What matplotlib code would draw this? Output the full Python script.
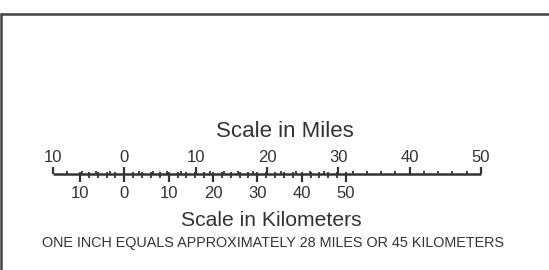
import numpy as np
import matplotlib
matplotlib.use('Agg')
import matplotlib.pyplot as plt

plt.rcParams['font.family'] = ['Liberation Sans', 'DejaVu Sans']

# scale values
mile_labels = [10, 0, 10, 20, 30, 40, 50]
mile_values = [-10, 0, 10, 20, 30, 40, 50]
km_labels = [10, 0, 10, 20, 30, 40, 50]
km_values = [-10, 0, 10, 20, 30, 40, 50]
mile_minor = np.arange(-10, 51, 2)
km_minor = np.arange(-10, 51, 2)
KM_PER_MILE = 1.609344

title_top = 'Scale in Miles'
title_bottom = 'Scale in Kilometers'
note = 'ONE INCH EQUALS APPROXIMATELY 28 MILES OR 45 KILOMETERS'

ink = '#333333'

fig = plt.figure(figsize=(5.49, 2.70), dpi=100)
ax = fig.add_axes([0, 0, 1, 1])
ax.set_xlim(-17.43, 59.53)
ax.set_ylim(270, 0)
ax.axis('off')

# frame (runs off the right and bottom edges)
ax.plot([-17.2, 60], [13.5, 13.5], color='#444444', lw=1.8)
ax.plot([-17.22, -17.22], [13.5, 271], color='#444444', lw=1.8)

bar_y = 174
ax.plot([mile_values[0], mile_values[-1]], [bar_y, bar_y], color=ink, lw=1.8,
        solid_capstyle='butt')

# mile ticks (up)
ax.vlines(mile_minor, bar_y - 3.5, bar_y, color=ink, lw=1.3)
ax.vlines(mile_values, bar_y - 7, bar_y, color=ink, lw=1.6)

# km ticks (down), positioned in miles
km_minor_mi = np.array(km_minor) / KM_PER_MILE
km_major_mi = np.array(km_values) / KM_PER_MILE
ax.vlines(km_minor_mi, bar_y - 2, bar_y + 3.5, color=ink, lw=1.3)
ax.vlines(km_major_mi, bar_y, bar_y + 8, color=ink, lw=1.6)

for v, lab in zip(mile_values, mile_labels):
    ax.text(v, 157, str(lab), ha='center', va='center', fontsize=12, color=ink)
for v, lab in zip(km_major_mi, km_labels):
    ax.text(v, 193.5, str(lab), ha='center', va='center', fontsize=12, color=ink)

ax.text(22.5, 131.5, title_top, ha='center', va='center', fontsize=16, color=ink)
ax.text(20.6, 220.5, title_bottom, ha='center', va='center', fontsize=15.2, color=ink)
ax.text(20.8, 242.5, note, ha='center', va='center', fontsize=10.4, color=ink)

fig.savefig('out.png', dpi=100)
